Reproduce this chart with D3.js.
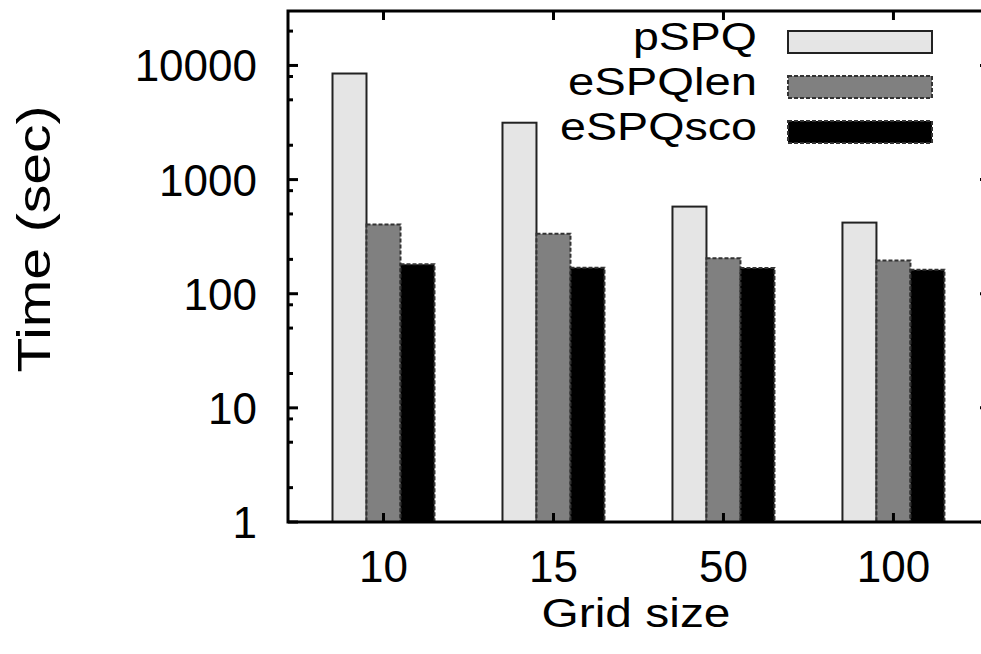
<!DOCTYPE html>
<html>
<head>
<meta charset="utf-8">
<script src="https://cdn.jsdelivr.net/npm/d3@7"></script>
<style>
  body { margin: 0; background: #fff; }
  text { font-family: "Liberation Sans", Arial, sans-serif; fill: #000; }
</style>
</head>
<body>
<svg id="my_svg"></svg>
<script>
const width = 981;
const height = 654;

// data
const groups = ["10", "15", "50", "100"];
const series = ["pSPQ", "eSPQlen", "eSPQsco"];
const pSPQ = [8500, 3150, 580, 420];
const eSPQlen = [405, 335, 205, 195];
const eSPQsco = [181, 169, 168, 162];
const yTicks = [1, 10, 100, 1000, 10000];
const colors = ["#e5e5e5", "#808080", "#000000"];

const values = [pSPQ, eSPQlen, eSPQsco];

const svg = d3.select('#my_svg')
  .attr('width', width)
  .attr('height', height);

const plotL = 288, plotR = 990, plotT = 11, plotB = 522;

let x = d3.scaleLinear()
  .domain([-0.5618, 3.568])
  .range([plotL, plotR]);
let sub = d3.scaleBand()
  .domain(series)
  .range([-0.3, 0.3]);
let y = d3.scaleLog()
  .domain([1, 30000])
  .range([plotB, plotT]);

// bars
let bars = [];
groups.forEach((g, i) => {
  series.forEach((s, j) => {
    bars.push({ i: i, j: j, value: values[j][i] });
  });
});
svg.selectAll(".bar")
  .data(bars).join("rect")
  .attr("class", "bar")
  .attr("x", d => x(d.i + sub(series[d.j])))
  .attr("width", x(sub.bandwidth()) - x(0))
  .attr("y", d => y(d.value))
  .attr("height", d => y(1) - y(d.value))
  .attr("fill", d => colors[d.j])
  .attr("stroke", d => d.j == 0 ? "#222" : "#333")
  .attr("stroke-width", 2)
  .attr("stroke-dasharray", d => d.j == 0 ? null : "4,2");

// minor/major ticks on left and right
let minor = [];
for (let e = 0; e < 5; e++) {
  [2, 5, 8].forEach(m => { if (m * Math.pow(10, e) <= 30000) minor.push(m * Math.pow(10, e)); });
}
let tickG = svg.append("g").attr("stroke", "#000").attr("stroke-width", 3);
yTicks.concat(minor).forEach(v => {
  let len = yTicks.includes(v) ? 10 : 5;
  tickG.append("line").attr("x1", plotL).attr("x2", plotL + len).attr("y1", y(v)).attr("y2", y(v));
  tickG.append("line").attr("x1", plotR).attr("x2", plotR - len).attr("y1", y(v)).attr("y2", y(v));
});
// x ticks (top mirror)
groups.forEach((g, i) => {
  tickG.append("line").attr("x1", x(i)).attr("x2", x(i)).attr("y1", plotT).attr("y2", plotT + 9);
  tickG.append("line").attr("x1", x(i)).attr("x2", x(i)).attr("y1", plotB).attr("y2", plotB - 9);
});

// frame
svg.append("rect")
  .attr("x", plotL).attr("y", plotT)
  .attr("width", plotR - plotL).attr("height", plotB - plotT)
  .attr("fill", "none").attr("stroke", "#000").attr("stroke-width", 3);

// tick labels
svg.selectAll(".ylab")
  .data(yTicks).join("text")
  .attr("class", "ylab")
  .attr("x", 257)
  .attr("y", d => y(d) + 16)
  .attr("text-anchor", "end")
  .attr("font-size", 44)
  .text(d => d);

svg.selectAll(".xlab")
  .data(groups).join("text")
  .attr("class", "xlab")
  .attr("x", (d, i) => x(i))
  .attr("y", 582)
  .attr("text-anchor", "middle")
  .attr("font-size", 44)
  .text(d => d);

// axis titles
svg.append("text")
  .attr("x", 636).attr("y", 627)
  .attr("text-anchor", "middle")
  .attr("font-size", 40)
  .attr("textLength", 189)
  .attr("lengthAdjust", "spacingAndGlyphs")
  .text("Grid size");

svg.append("text")
  .attr("transform", "translate(50,239) rotate(-90)")
  .attr("text-anchor", "middle")
  .attr("font-size", 47)
  .attr("textLength", 267)
  .attr("lengthAdjust", "spacingAndGlyphs")
  .text("Time (sec)");

// legend
const legendW = [124, 189, 197];
let legend = svg.selectAll(".legend")
  .data(series).join("g")
  .attr("class", "legend")
  .attr("transform", (d, i) => `translate(0,${31 + i * 45})`);
legend.append("rect")
  .attr("x", 788).attr("y", 0)
  .attr("width", 144).attr("height", 22)
  .attr("fill", (d, i) => colors[i])
  .attr("stroke", (d, i) => i == 0 ? "#222" : "#333")
  .attr("stroke-width", 2)
  .attr("stroke-dasharray", (d, i) => i == 0 ? null : "4,2");
legend.append("text")
  .attr("x", 757).attr("y", 19)
  .attr("text-anchor", "end")
  .attr("font-size", 39)
  .attr("textLength", (d, i) => legendW[i])
  .attr("lengthAdjust", "spacingAndGlyphs")
  .text(d => d);
</script>
</body>
</html>
